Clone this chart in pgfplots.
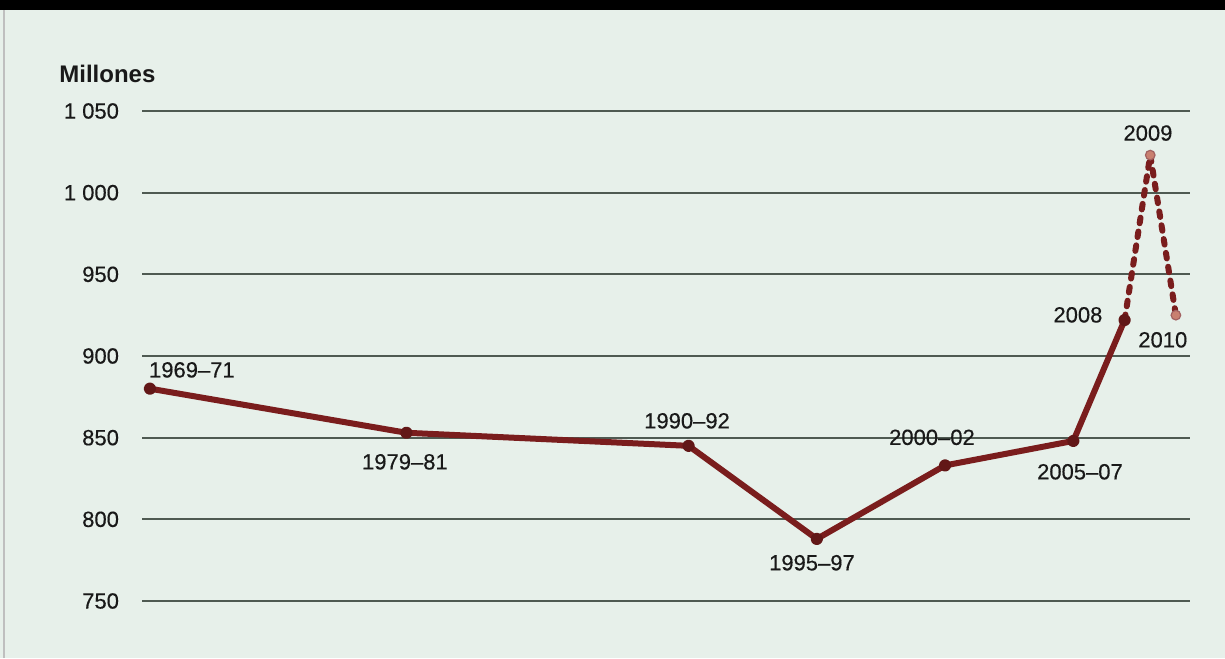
\documentclass[border=0pt]{standalone}
\usepackage{fontspec}
\setmainfont{Liberation Sans}
\usepackage{pgfplots}
\pgfplotsset{compat=1.18}
\definecolor{bgcol}{HTML}{E7F0EA}
\definecolor{linecol}{HTML}{7A1D1D}
\definecolor{gridcol}{HTML}{4F5A52}
\definecolor{ptlight}{HTML}{C98070}
\newcommand{\lblfont}{\fontsize{11}{13}\selectfont\addfontfeature{FakeBold=0.4}}
\begin{document}
\begin{tikzpicture}[x=0.5pt,y=0.5pt]
  % backdrop, 1 unit = 1 px of the reference
  \fill[bgcol] (0,0) rectangle (1225,658);
  \fill[black] (0,648) rectangle (1225,658);
  \draw[gray!50, line width=0.8pt] (4,0) -- (4,648);
  \node[anchor=west, inner sep=0pt, font=\fontsize{12}{14}\selectfont\bfseries, text=black!90]
    at (59,584) {Millones};
  \begin{axis}[
    at={(71pt,28.5pt)}, anchor=south west,
    width=524pt, height=245pt, scale only axis,
    xmin=1969.69, xmax=2010.55, ymin=750, ymax=1050,
    axis line style={draw=none},
    xtick=\empty,
    ytick={750,800,850,900,950,1000,1050},
    yticklabels={750,800,850,900,950,1 000,1 050},
    major tick length=0pt,
    ymajorgrids, grid style={gridcol, line width=0.9pt},
    yticklabel style={font=\lblfont, text=black!90, xshift=-8pt},
    clip=false,
  ]
    \addplot[linecol, line width=3pt, line join=round, mark=*, mark size=1.6pt,
      mark options={fill=linecol!80!black, draw=linecol!80!black, solid}]
      coordinates {(1970,880) (1980,853) (1991,845) (1996,788) (2001,833) (2006,848) (2008,922)};
    \addplot[linecol, line width=3pt, line join=round, line cap=round, dash pattern=on 2.8pt off 4.2pt]
      coordinates {(2008,922) (2009,1023) (2010,925)};
    \addplot[only marks, mark=*, mark size=2.4pt,
      mark options={fill=ptlight, draw=linecol!70, line width=0.6pt}]
      coordinates {(2009,1023) (2010,925)};

    \begin{scope}[every node/.style={font=\lblfont, text=black!90, inner sep=0pt}]
      \node[anchor=west] at (axis cs:1969.95,891.5) {1969--71};
      \node at (axis cs:1979.94,835.2) {1979--81};
      \node at (axis cs:1990.94,860.3) {1990--92};
      \node at (axis cs:1995.81,773.4) {1995--97};
      \node at (axis cs:2000.49,850.2) {2000--02};
      \node at (axis cs:2006.26,829.1) {2005--07};
      \node at (axis cs:2006.18,925.2) {2008};
      \node at (axis cs:2008.91,1036.5) {2009};
      \node at (axis cs:2009.49,909.9) {2010};
    \end{scope}
  \end{axis}
\end{tikzpicture}
\end{document}
